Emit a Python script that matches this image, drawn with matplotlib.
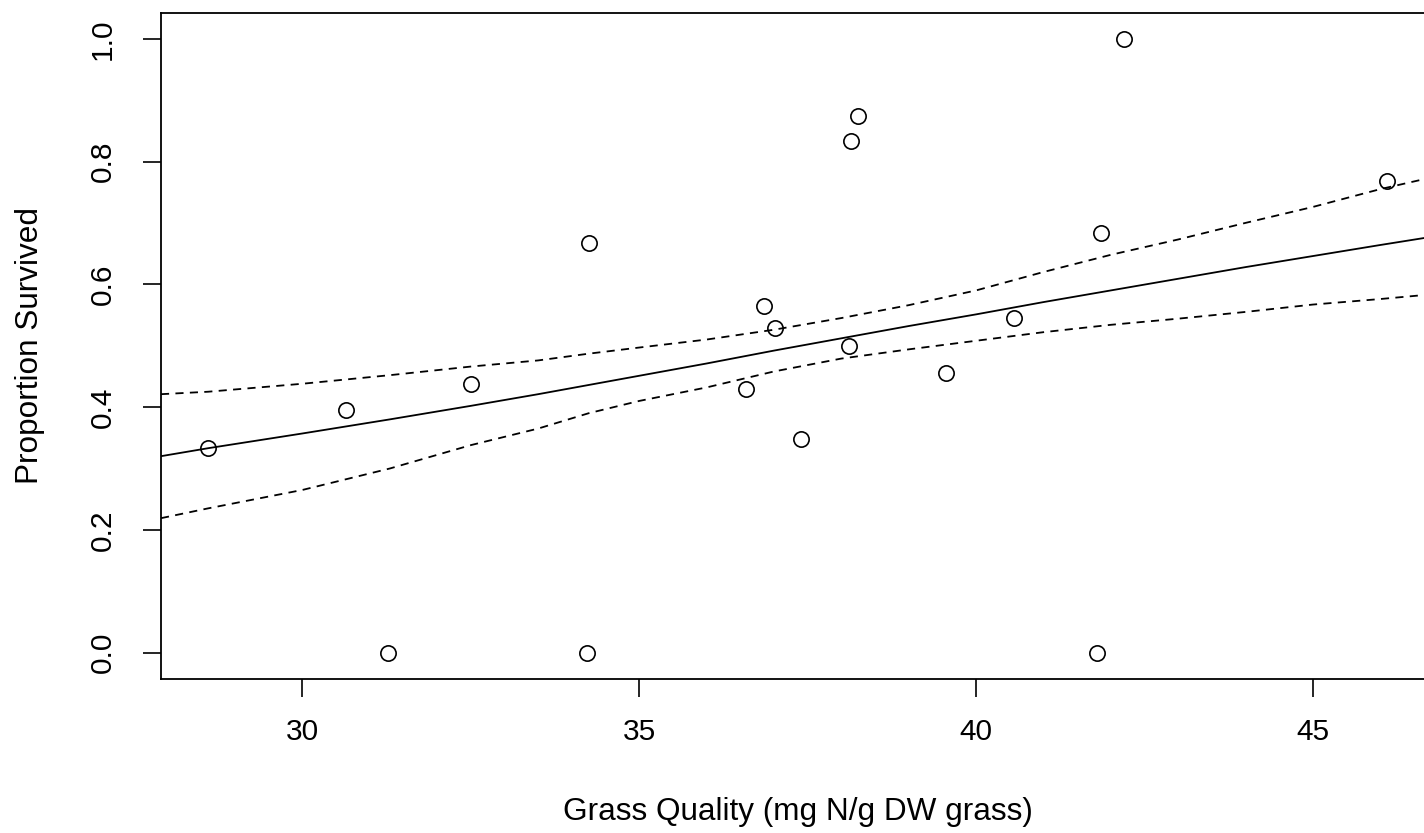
import matplotlib
matplotlib.use('Agg')
import matplotlib.pyplot as plt

plt.rcParams['font.family'] = ['Liberation Sans', 'DejaVu Sans']

# observed proportions
grass_n = [28.6, 30.65, 31.27, 32.5, 34.25, 34.22, 36.58, 36.85, 37.02, 37.4,
           38.15, 38.25, 38.12, 39.55, 40.57, 41.8, 41.86, 42.2, 46.1]
survived = [0.333, 0.395, 0.0, 0.4375, 0.667, 0.0, 0.429, 0.565, 0.529, 0.348,
            0.833, 0.875, 0.5, 0.455, 0.545, 0.0, 0.684, 1.0, 0.769]

# fitted curve and confidence band
fit_x = [27.9, 28.6, 30, 31.3, 32.5, 33.5, 34.25, 35, 36, 37, 38, 39, 40,
         41, 42, 43, 44, 45, 46, 46.8]
fit_y = [0.320, 0.333, 0.357, 0.380, 0.402, 0.421, 0.436, 0.451, 0.471, 0.492,
         0.512, 0.532, 0.551, 0.571, 0.590, 0.609, 0.628, 0.646, 0.664, 0.678]
upper = [0.421, 0.425, 0.438, 0.452, 0.466, 0.476, 0.487, 0.497, 0.510, 0.526,
         0.545, 0.566, 0.590, 0.620, 0.648, 0.673, 0.700, 0.726, 0.755, 0.775]
lower = [0.219, 0.235, 0.265, 0.300, 0.338, 0.365, 0.390, 0.410, 0.432, 0.458,
         0.479, 0.494, 0.508, 0.522, 0.534, 0.544, 0.555, 0.567, 0.576, 0.584]

W, H = 1424, 833
fig = plt.figure(figsize=(W / 100, H / 100), dpi=100)
left, right, top, bottom = 161, 1434, 13, 679
ax = fig.add_axes([left / W, (H - bottom) / H, (right - left) / W, (bottom - top) / H])

ax.plot(grass_n, survived, 'o', mfc='none', mec='black', ms=11, mew=1.2, clip_on=False)
ax.plot(fit_x, fit_y, '-', color='black', lw=1.3)
ax.plot(fit_x, upper, color='black', lw=1.3, linestyle=(0, (4.5, 3.5)))
ax.plot(fit_x, lower, color='black', lw=1.3, linestyle=(0, (4.5, 3.5)))

ax.set_xlim(27.9, 46.8)
ax.set_ylim(-0.043, 1.042)
ax.set_xticks([30, 35, 40, 45])
ax.set_yticks([0.0, 0.2, 0.4, 0.6, 0.8, 1.0])
ax.set_yticklabels(['0.0', '0.2', '0.4', '0.6', '0.8', '1.0'], rotation=90, va='center')

ax.tick_params(axis='both', length=13, width=1.2, labelsize=21.5)
ax.tick_params(axis='x', pad=15)
ax.tick_params(axis='y', pad=19)

for s in ax.spines.values():
    s.set_linewidth(1.3)
ax.spines['right'].set_visible(False)

ax.set_xlabel('Grass Quality (mg N/g DW grass)', fontsize=22.7)
ax.set_ylabel('Proportion Survived', fontsize=22.7)
ax.xaxis.set_label_coords(0.5, (bottom - 812) / (bottom - top))
ax.yaxis.set_label_coords((30 - left) / (right - left), 0.5)
ax.xaxis.label.set_va('center')
ax.yaxis.label.set_va('center')

fig.savefig('out.png', dpi=100)
